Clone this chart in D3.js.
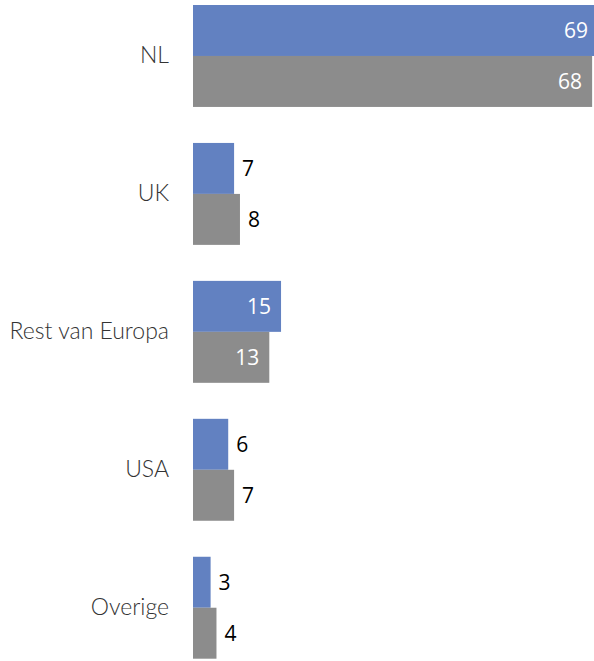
<!DOCTYPE html>
<html><head><meta charset="utf-8">
<script src="https://cdn.jsdelivr.net/npm/d3@7"></script>
<style>body{margin:0;background:#fff;overflow:hidden}svg{display:block}</style>
</head><body>
<script>
const categories = ["NL", "UK", "Rest van Europa", "USA", "Overige"];
const seriesA = [69, 7, 15, 6, 3];
const seriesB = [68, 8, 13, 7, 4];
const seriesColors = ["#6281C1", "#8C8C8C"];

const W = 594, H = 661;
const svg = d3.select("body").append("svg").attr("width", W).attr("height", H);

const x = d3.scaleLinear().domain([0, 69]).range([193, 598]);
const y = d3.scaleBand().domain(categories).range([5, 658.7]).paddingInner(0.261).paddingOuter(0);
const sub = d3.scaleBand().domain([0, 1]).range([0, y.bandwidth()]);

const data = [];
categories.forEach((c, i) => {
  [seriesA[i], seriesB[i]].forEach((v, s) => data.push({c, v, s}));
});

svg.selectAll("rect.bar").data(data).join("rect")
  .attr("class", "bar")
  .attr("x", x(0))
  .attr("y", d => y(d.c) + sub(d.s))
  .attr("width", d => x(d.v) - x(0))
  .attr("height", sub.bandwidth())
  .attr("fill", d => seriesColors[d.s]);

const inside = d => d.v >= 10;
svg.selectAll("text.val").data(data).join("text")
  .attr("class", "val")
  .attr("x", d => inside(d) ? x(d.v) - 10 : x(d.v) + 8)
  .attr("y", d => y(d.c) + sub(d.s) + sub.bandwidth() / 2)
  .attr("dy", "0.36em")
  .attr("text-anchor", d => inside(d) ? "end" : "start")
  .attr("fill", d => inside(d) ? "#fff" : "#000")
  .style("font-family", "'Open Sans', sans-serif")
  .style("font-size", "21px")
  .text(d => d.v);

const yAxis = d3.axisLeft(y).tickSize(0).tickPadding(0);
const g = svg.append("g").attr("transform", `translate(169,0)`).call(yAxis);
g.select(".domain").remove();
g.selectAll("text")
  .style("font-family", "Lato, sans-serif")
  .style("font-weight", 300)
  .style("font-size", "23px")
  .attr("fill", "#333333");
</script>
</body></html>
